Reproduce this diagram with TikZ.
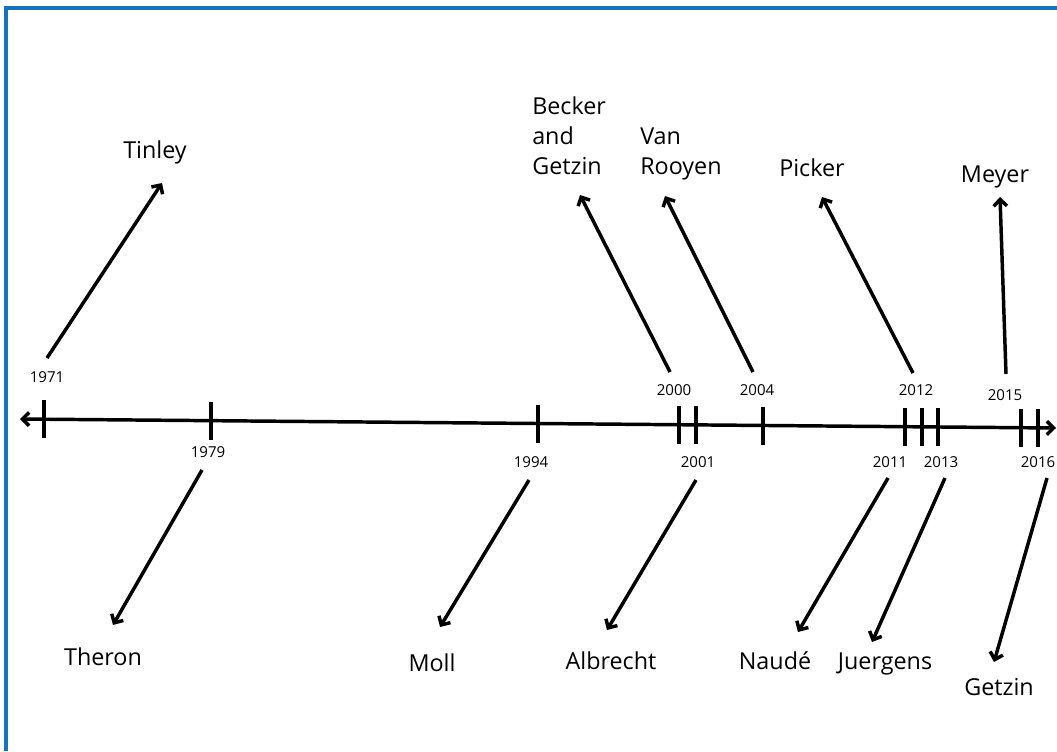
\documentclass[tikz,border=0pt]{standalone}
\usepackage{fontspec}
\setmainfont{Open Sans}
\usepackage{tikz}
\usetikzlibrary{arrows.meta}
\definecolor{frameblue}{RGB}{22,114,196}

\tikzset{
  >={Straight Barb[length=5pt, width=10pt]},
  author/.style={font=\fontsize{17.5}{22.5}\selectfont, inner sep=0pt},
  year/.style={font=\fontsize{11.3}{13}\selectfont, inner sep=0pt},
  pointer/.style={->, line width=2.6pt},
  tick/.style={line width=2.8pt}
}

\begin{document}
\begin{tikzpicture}[x=0.75pt, y=-0.75pt]
  \useasboundingbox (0, 0) rectangle (1057, 751);
  \draw [frameblue, line width=2.3pt] (6, 751) -- (6, 8) -- (1057, 8);

  % time axis
  \coordinate (L) at (20, 419);
  \coordinate (R) at (1056, 428);
  \draw [<->, line width=2.6pt] (L) -- (R);
  \foreach \x/\y in {44/419.2, 211/420.7, 538/423.5, 679/424.7, 696/424.9,
                     763/425.5, 905/426.7, 922/426.8, 938/427.0, 1021/427.7,
                     1038/427.8}
    \draw [tick] (\x, \y - 19) -- (\x, \y + 19);

  % years
  \node [year] (Y1971) at (47, 377) {1971};
  \node [year] (Y1979) at (208, 452) {1979};
  \node [year] (Y1994) at (531, 462) {1994};
  \node [year] (Y2000) at (674, 390) {2000};
  \node [year] (Y2001) at (698, 462) {2001};
  \node [year] (Y2004) at (757, 390) {2004};
  \node [year] (Y2011) at (890, 462) {2011};
  \node [year] (Y2012) at (916, 390) {2012};
  \node [year] (Y2013) at (941, 462) {2013};
  \node [year] (Y2015) at (1005, 395) {2015};
  \node [year] (Y2016) at (1038, 462) {2016};

  % authors above the axis
  \node [author] (Tinley) at (155, 152) {Tinley};
  \node [author, anchor=west, align=left] (Becker) at (532, 136) {Becker\\and\\Getzin};
  \node [author, anchor=west, align=left] (Rooyen) at (640, 154) {Van\\Rooyen};
  \node [author] (Picker) at (812, 168) {Picker};
  \node [author] (Meyer) at (995, 177) {Meyer};

  % authors below the axis
  \node [author] (Theron) at (103, 657) {Theron};
  \node [author] (Moll) at (432, 663) {Moll};
  \node [author] (Albrecht) at (611, 661) {Albrecht};
  \node [author] (Naude) at (775, 661) {Naudé};
  \node [author] (Juergens) at (885, 664) {Juergens};
  \node [author] (Getzin) at (999, 687) {Getzin};

  % arrow ends
  \coordinate (s1971) at (47, 358);   \coordinate (e1971) at (162, 183);
  \coordinate (s1979) at (202, 470);  \coordinate (e1979) at (113, 625);
  \coordinate (s1994) at (529, 480);  \coordinate (e1994) at (440, 627);
  \coordinate (s2000) at (670, 372);  \coordinate (e2000) at (580, 195);
  \coordinate (s2001) at (696, 480);  \coordinate (e2001) at (607, 630);
  \coordinate (s2004) at (753, 372);  \coordinate (e2004) at (665, 196);
  \coordinate (s2011) at (888, 478);  \coordinate (e2011) at (798, 632);
  \coordinate (s2012) at (913, 373);  \coordinate (e2012) at (822, 197);
  \coordinate (s2013) at (945, 478);  \coordinate (e2013) at (872, 642);
  \coordinate (s2015) at (1006, 374); \coordinate (e2015) at (1000, 197);
  \coordinate (s2016) at (1047, 478); \coordinate (e2016) at (994, 662);

  \draw [pointer] (s1971) -- (e1971);
  \draw [pointer] (s1979) -- (e1979);
  \draw [pointer] (s1994) -- (e1994);
  \draw [pointer] (s2000) -- (e2000);
  \draw [pointer] (s2001) -- (e2001);
  \draw [pointer] (s2004) -- (e2004);
  \draw [pointer] (s2011) -- (e2011);
  \draw [pointer] (s2012) -- (e2012);
  \draw [pointer] (s2013) -- (e2013);
  \draw [pointer] (s2015) -- (e2015);
  \draw [pointer] (s2016) -- (e2016);
\end{tikzpicture}
\end{document}
